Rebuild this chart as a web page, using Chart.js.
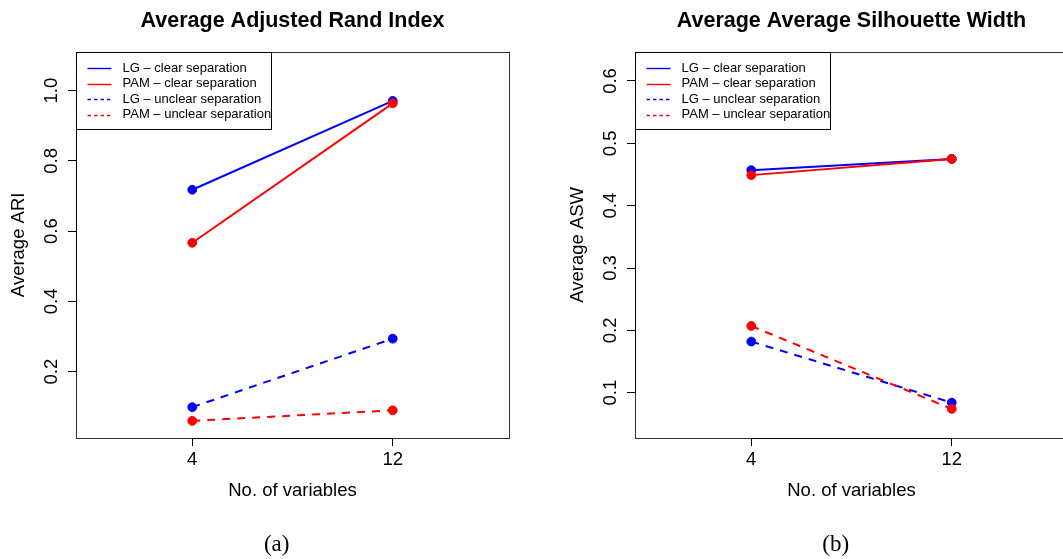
<!DOCTYPE html>
<html><head><meta charset="utf-8">
<script src="https://cdn.jsdelivr.net/npm/chart.js@4.4.0/dist/chart.umd.min.js"></script>
<style>
html,body{margin:0;padding:0;background:#fff;overflow:hidden;width:1063px;height:559px;}
#ca{position:absolute;left:0;top:0;}
#cb{position:absolute;left:530px;top:0;}
</style></head><body>
<canvas id="ca" width="530" height="559"></canvas>
<canvas id="cb" width="545" height="559"></canvas>
<script>
// ---- data ----
const xValues = [4, 12];
const xTickLabels = ['4', '12'];
const seriesNames = ['LG \u2013 clear separation', 'PAM \u2013 clear separation', 'LG \u2013 unclear separation', 'PAM \u2013 unclear separation'];
const seriesColors = ['#0000ff', '#ff0000', '#0000ff', '#ff0000'];
const seriesDashed = [false, false, true, true];

const ariLGClear = [0.718, 0.971];
const ariPAMClear = [0.567, 0.964];
const ariLGUnclear = [0.099, 0.294];
const ariPAMUnclear = [0.060, 0.090];
const ariYTicks = [0.2, 0.4, 0.6, 0.8, 1.0];

const aswLGClear = [0.457, 0.475];
const aswPAMClear = [0.449, 0.475];
const aswLGUnclear = [0.182, 0.084];
const aswPAMUnclear = [0.207, 0.074];
const aswYTicks = [0.1, 0.2, 0.3, 0.4, 0.5, 0.6];

const FONT = "'Liberation Sans', Arial, Helvetica, sans-serif";
Chart.defaults.font.family = FONT;
Chart.defaults.color = '#000';

const deco = {
  id: 'deco',
  afterDraw(chart, args, o) {
    const ctx = chart.ctx, ca = chart.chartArea;
    const xs = chart.scales.x, ys = chart.scales.y;
    ctx.save();
    // box
    ctx.strokeStyle = '#333';
    ctx.lineWidth = 1;
    ctx.strokeRect(Math.round(ca.left) + 0.5, Math.round(ca.top) + 0.5, Math.round(ca.right - ca.left), Math.round(ca.bottom - ca.top));
    // axis lines (first to last tick)
    ctx.strokeStyle = '#000';
    ctx.beginPath();
    const bx = Math.round(ca.bottom) + 0.5;
    ctx.moveTo(xs.getPixelForValue(xValues[0]), bx);
    ctx.lineTo(xs.getPixelForValue(xValues[xValues.length - 1]), bx);
    const lx = Math.round(ca.left) + 0.5;
    ctx.moveTo(lx, ys.getPixelForValue(o.yTicks[0]));
    ctx.lineTo(lx, ys.getPixelForValue(o.yTicks[o.yTicks.length - 1]));
    ctx.stroke();
    // legend
    const L = Math.round(ca.left) + 0.5, T = Math.round(ca.top) + 0.5;
    ctx.fillStyle = '#fff';
    ctx.fillRect(L, T, 195, 77);
    ctx.strokeStyle = '#000';
    ctx.strokeRect(L, T, 195, 77);
    ctx.font = '13px ' + FONT;
    ctx.textAlign = 'left';
    ctx.textBaseline = 'middle';
    chart.data.datasets.forEach((d, i) => {
      const y = T + 15.7 + i * 15.55;
      ctx.strokeStyle = d.borderColor;
      ctx.lineWidth = 1.4;
      ctx.setLineDash(seriesDashed[i] ? [3.5, 3] : []);
      ctx.beginPath();
      ctx.moveTo(L + 11, Math.round(y) + 0.5);
      ctx.lineTo(L + 35, Math.round(y) + 0.5);
      ctx.stroke();
      ctx.setLineDash([]);
      ctx.fillStyle = '#000';
      ctx.fillText(d.label, L + 46, y);
    });
    // title
    ctx.font = 'bold 21.5px ' + FONT;
    ctx.textAlign = 'center';
    ctx.fillText(o.title, (ca.left + ca.right) / 2, 21);
    // caption
    ctx.font = "23px 'Liberation Serif', 'Times New Roman', serif";
    ctx.fillText(o.caption, ca.left + 200.7, 545);
    ctx.restore();
  }
};

function makeChart(id, cfg) {
  const datasets = cfg.series.map((vals, i) => ({
    label: seriesNames[i],
    data: xValues.map((x, j) => ({ x: x, y: vals[j] })),
    borderColor: seriesColors[i],
    backgroundColor: seriesColors[i],
    pointBackgroundColor: seriesColors[i],
    pointBorderColor: seriesColors[i],
    pointRadius: 4.4,
    pointBorderWidth: 1,
    borderWidth: 2,
    borderDash: seriesDashed[i] ? [8, 7] : [],
    tension: 0,
    fill: false,
    order: 4 - i
  }));
  return new Chart(document.getElementById(id), {
    type: 'line',
    data: { datasets },
    options: {
      responsive: false,
      animation: false,
      devicePixelRatio: 1,
      layout: { padding: { top: 51.7, left: 0, right: cfg.padRight, bottom: 0 } },
      plugins: {
        legend: { display: false },
        tooltip: { enabled: false },
        title: { display: false },
        deco: { title: cfg.title, caption: cfg.caption, yTicks: cfg.yTicks }
      },
      scales: {
        x: {
          type: 'linear',
          min: -0.64, max: 16.64,
          afterBuildTicks: s => { s.ticks = xValues.map(v => ({ value: v })); },
          ticks: {
            callback: (v) => xTickLabels[xValues.indexOf(v)],
            font: { size: 18.5 }, color: '#000', padding: 3, maxRotation: 0, autoSkip: false
          },
          grid: { drawOnChartArea: false, drawTicks: true, tickLength: 8, color: '#000', lineWidth: 1 },
          border: { display: false },
          title: { display: true, text: 'No. of variables', font: { size: 18.5 }, color: '#000', padding: { top: 0, bottom: 57.2 } },
          afterFit: s => { s.height = 121; }
        },
        y: {
          type: 'linear',
          min: cfg.yMin, max: cfg.yMax,
          afterBuildTicks: s => { s.ticks = cfg.yTicks.map(v => ({ value: v })); },
          ticks: {
            callback: v => Number(v).toFixed(1),
            font: { size: 18.5 }, color: '#000', padding: 3,
            minRotation: 90, maxRotation: 90, crossAlign: 'center', autoSkip: false
          },
          grid: { drawOnChartArea: false, drawTicks: true, tickLength: 8, color: '#000', lineWidth: 1 },
          border: { display: false },
          title: { display: true, text: cfg.yTitle, font: { size: 18.5 }, color: '#000', padding: { top: cfg.yTitlePad, bottom: 0 } },
          afterFit: s => { s.width = cfg.yWidth; }
        }
      }
    },
    plugins: [deco]
  });
}

makeChart('ca', {
  series: [ariLGClear, ariPAMClear, ariLGUnclear, ariPAMUnclear],
  yTicks: ariYTicks, yMin: 0.0112, yMax: 1.111,
  yTitle: 'Average ARI', yTitlePad: 8.3, yWidth: 76, padRight: 21,
  title: 'Average Adjusted Rand Index', caption: '(a)'
});
makeChart('cb', {
  series: [aswLGClear, aswPAMClear, aswLGUnclear, aswPAMUnclear],
  yTicks: aswYTicks, yMin: 0.0273, yMax: 0.647,
  yTitle: 'Average ASW', yTitlePad: 37.3, yWidth: 105, padRight: 7,
  title: 'Average Average Silhouette Width', caption: '(b)'
});
</script>
</body></html>
